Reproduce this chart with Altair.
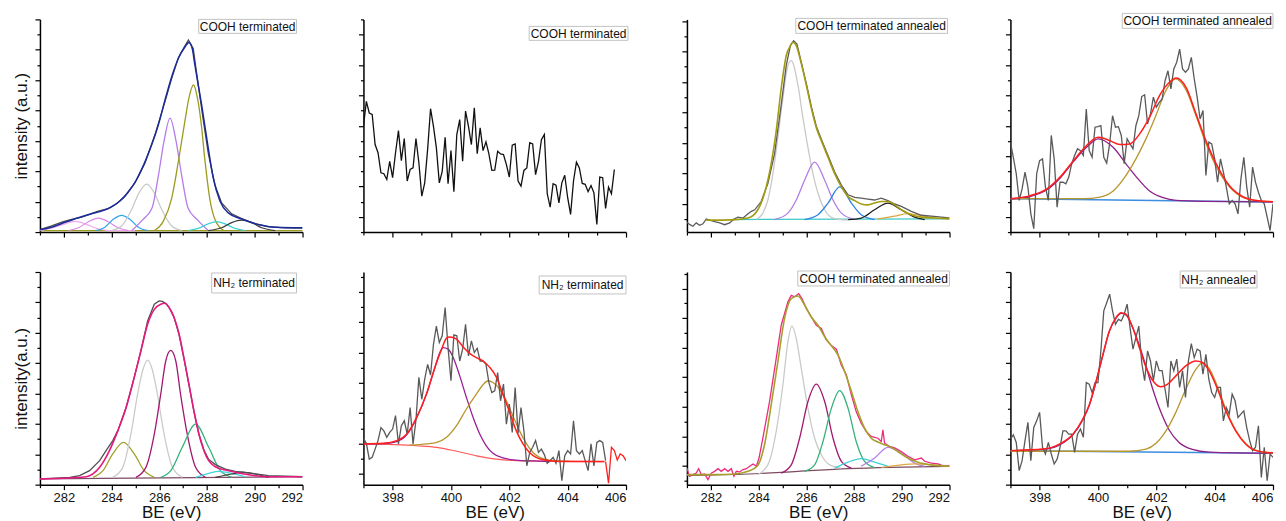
import json
import altair as alt
import pandas as pd

FONT = "Liberation Sans"

# ---------- shared energy grid of the N 1s scans (eV) ----------
N1S_GRID = [397.0, 397.1, 397.2, 397.3, 397.4, 397.5, 397.6, 397.7, 397.8, 397.9,
            398.0, 398.1, 398.2, 398.3, 398.4, 398.5, 398.6, 398.7, 398.8, 398.9,
            399.0, 399.1, 399.2, 399.3, 399.4, 399.5, 399.6, 399.7, 399.8, 399.9,
            400.0, 400.1, 400.2, 400.3, 400.4, 400.5, 400.6, 400.7, 400.8, 400.9,
            401.0, 401.1, 401.2, 401.3, 401.4, 401.5, 401.6, 401.7, 401.8, 401.9,
            402.0, 402.1, 402.2, 402.3, 402.4, 402.5, 402.6, 402.7, 402.8, 402.9,
            403.0, 403.1, 403.2, 403.3, 403.4, 403.5, 403.6, 403.7, 403.8, 403.9,
            404.0, 404.1, 404.2, 404.3, 404.4, 404.5, 404.6, 404.7, 404.8, 404.9,
            405.0, 405.1, 405.2, 405.3, 405.4, 405.5, 405.6, 405.7, 405.8, 405.9,
            406.0]

# ---------- Panel 1: C 1s, COOH terminated ----------
P1_ENV_X = [281.00, 281.49, 282.05, 282.61, 283.16, 283.58, 284.00, 284.35, 284.70, 285.05,
            285.40, 285.68, 285.96, 286.24, 286.52, 286.80, 287.08, 287.24, 287.38, 287.49,
            287.77, 288.05, 288.26, 288.54, 288.89, 289.45, 290.15, 290.85, 292.00]
P1_ENV_Y = [0.08, 0.16, 0.32, 0.47, 0.60, 0.69, 0.83, 1.02, 1.32, 1.73,
            2.31, 2.87, 3.53, 4.35, 5.11, 5.72, 6.10, 6.24, 6.04, 5.50,
            4.20, 2.76, 1.78, 1.02, 0.63, 0.43, 0.25, 0.16, 0.14]
P1_RAW_X = [281.00, 281.49, 281.98, 282.33, 282.75, 283.16, 283.44, 283.86, 284.21, 284.56,
            284.98, 285.40, 285.82, 286.24, 286.52, 286.80, 287.05, 287.22, 287.30, 287.42,
            287.63, 287.84, 288.05, 288.33, 288.61, 289.03, 289.45, 290.01, 290.57, 291.27, 292.00]
P1_RAW_Y = [0.08, 0.20, 0.34, 0.42, 0.49, 0.61, 0.69, 0.77, 0.93, 1.18,
            1.62, 2.27, 3.20, 4.30, 5.06, 5.74, 6.10, 6.32, 6.21, 6.04,
            4.85, 3.70, 2.60, 1.55, 0.96, 0.60, 0.44, 0.27, 0.18, 0.14, 0.13]
P1_PINK1_X = [281.00, 281.63, 282.05, 282.47, 282.89, 283.30, 283.86, 284.98]
P1_PINK1_Y = [0.05, 0.16, 0.27, 0.35, 0.27, 0.14, 0.05, 0.05]
P1_PINK2_X = [282.19, 282.61, 283.03, 283.44, 283.86, 284.28, 284.70]
P1_PINK2_Y = [0.05, 0.14, 0.34, 0.46, 0.34, 0.14, 0.05]
P1_LBLUE_X = [283.30, 283.72, 284.07, 284.42, 284.77, 285.12, 285.54]
P1_LBLUE_Y = [0.05, 0.16, 0.42, 0.55, 0.42, 0.16, 0.05]
P1_GRAY_X = [284.00, 284.42, 284.84, 285.15, 285.47, 285.79, 286.10, 286.52, 286.94]
P1_GRAY_Y = [0.05, 0.20, 0.74, 1.29, 1.58, 1.29, 0.74, 0.20, 0.05]
P1_LAV_X = [284.85, 285.30, 285.70, 285.96, 286.20, 286.45, 286.70, 286.94, 287.20, 287.60, 288.05]
P1_LAV_Y = [0.05, 0.40, 0.80, 1.85, 3.00, 3.75, 3.00, 1.85, 0.80, 0.40, 0.05]
P1_OLIVE_X = [285.80, 286.17, 286.52, 286.80, 287.07, 287.25, 287.43, 287.60, 287.75, 287.92,
              288.11, 288.35, 288.70]
P1_OLIVE_Y = [0.05, 0.36, 1.12, 2.33, 3.64, 4.45, 4.84, 4.40, 3.60, 2.30,
              1.12, 0.38, 0.05]
P1_CYAN_X = [287.22, 287.63, 288.05, 288.40, 288.75, 289.17, 289.59]
P1_CYAN_Y = [0.05, 0.12, 0.27, 0.34, 0.27, 0.12, 0.05]
P1_DARK_X = [288.05, 288.61, 289.03, 289.45, 289.87, 290.29, 290.85]
P1_DARK_Y = [0.05, 0.14, 0.31, 0.39, 0.31, 0.14, 0.05]
P1_BASE_X = [281.0, 292.0]
P1_BASE_Y = [0.05, 0.05]

# ---------- Panel 2: N 1s, COOH terminated ----------
P2_RAW_Y = [3.48, 4.30, 3.92, 3.87, 2.88, 2.61, 1.95, 1.92, 1.73, 2.33,
            1.79, 2.61, 3.34, 2.35, 3.08, 1.68, 2.06, 2.11, 3.08, 2.28,
            1.18, 1.62, 2.72, 4.06, 3.48, 2.77, 1.62, 2.00, 3.12, 1.59,
            2.68, 1.33, 3.21, 3.70, 2.33, 3.98, 3.48, 2.88, 4.09, 2.58,
            3.43, 2.68, 2.97, 2.57, 2.03, 2.04, 2.66, 2.57, 2.55, 2.22,
            1.81, 2.86, 2.90, 1.68, 1.51, 2.03, 2.11, 2.94, 2.90, 1.89,
            2.33, 3.04, 3.21, 1.26, 0.82, 1.59, 1.54, 0.96, 1.62, 1.87,
            1.13, 0.58, 1.68, 2.30, 2.11, 1.60, 1.57, 1.33, 1.53, 1.29,
            0.25, 1.81, 1.79, 0.78, 1.48, 1.26, 2.06]

# ---------- Panel 3: C 1s, COOH terminated annealed ----------
P3_ENV_X = [281.81, 282.86, 283.56, 283.97, 284.25, 284.53, 284.74, 284.95, 285.16, 285.34,
            285.44, 285.58, 285.79, 286.00, 286.21, 286.42, 286.63, 286.91, 287.19, 287.47,
            287.75, 288.03, 288.30, 288.58, 288.86, 289.14, 289.42, 289.70, 289.98, 290.40,
            290.82, 291.38, 292.00]
P3_ENV_Y = [0.39, 0.40, 0.46, 0.73, 1.27, 2.24, 3.31, 4.71, 5.78, 6.11,
            6.22, 6.11, 5.52, 4.82, 4.06, 3.42, 2.99, 2.45, 1.91, 1.48,
            1.16, 1.03, 0.92, 0.89, 0.95, 1.00, 1.00, 0.89, 0.73, 0.57,
            0.49, 0.46, 0.44]
P3_RAW_X = [281.00, 281.11, 281.25, 281.39, 281.53, 281.67, 281.81, 281.95, 282.16, 282.37,
            282.58, 282.79, 282.97, 283.14, 283.35, 283.56, 283.70, 283.84, 284.11, 284.39,
            284.67, 284.95, 285.16, 285.34, 285.47, 285.61, 285.79, 286.00, 286.21, 286.42,
            286.63, 286.91, 287.19, 287.47, 287.75, 288.03, 288.30, 288.58, 288.86, 289.14,
            289.42, 289.70, 289.98, 290.40, 290.82, 291.24, 291.66, 292.00]
P3_RAW_Y = [0.32, 0.25, 0.19, 0.30, 0.22, 0.27, 0.43, 0.39, 0.34, 0.30,
            0.24, 0.30, 0.43, 0.49, 0.46, 0.60, 0.68, 0.73, 1.00, 1.59,
            2.56, 4.17, 5.46, 6.13, 6.27, 6.16, 5.57, 4.87, 4.12, 3.47,
            3.04, 2.51, 1.97, 1.54, 1.22, 1.14, 1.11, 1.08, 1.05, 1.11,
            1.03, 0.92, 0.84, 0.68, 0.55, 0.52, 0.49, 0.46]
P3_GRAY_X = [283.91, 284.18, 284.39, 284.60, 284.81, 285.02, 285.23, 285.37, 285.65, 285.86,
             286.07, 286.28, 286.49, 286.77, 287.12, 287.75]
P3_GRAY_Y = [0.41, 0.62, 1.05, 1.91, 3.10, 4.39, 5.46, 5.62, 4.82, 3.74,
             2.77, 1.91, 1.27, 0.73, 0.46, 0.39]
P3_LAV_X = [284.67, 285.23, 285.58, 285.93, 286.35, 286.77, 287.12, 287.47, 288.03]
P3_LAV_Y = [0.41, 0.62, 1.05, 1.70, 2.29, 1.70, 1.05, 0.62, 0.41]
P3_BLUE_X = [285.93, 286.49, 286.91, 287.40, 287.89, 288.30, 288.86]
P3_BLUE_Y = [0.41, 0.57, 0.95, 1.48, 0.95, 0.57, 0.41]
P3_BLACK_X = [287.75, 288.30, 288.86, 289.42, 289.98, 290.54, 290.96]
P3_BLACK_Y = [0.41, 0.46, 0.73, 0.95, 0.73, 0.49, 0.41]
P3_ORANGE_X = [289.00, 289.70, 290.26, 290.82, 291.38, 292.00]
P3_ORANGE_Y = [0.43, 0.52, 0.60, 0.54, 0.46, 0.43]
P3_CYAN_X = [282.86, 292.00]
P3_CYAN_Y = [0.41, 0.43]

# ---------- Panel 4: N 1s, COOH terminated annealed ----------
P4_RAW_Y = [2.96, 2.46, 1.92, 1.04, 1.42, 1.97, 1.48, 0.60, 0.11, 1.92,
            2.35, 2.41, 1.48, 1.04, 3.18, 2.41, 0.82, 1.64, 1.64, 1.59,
            1.81, 2.25, 2.52, 2.74, 2.68, 2.52, 4.05, 2.68, 2.46, 3.45,
            3.47, 3.50, 2.46, 2.27, 2.90, 3.83, 3.45, 3.47, 3.18, 2.25,
            3.07, 2.90, 2.74, 3.50, 3.83, 4.46, 4.52, 3.56, 3.89, 4.44,
            4.11, 4.27, 4.38, 4.98, 5.31, 4.71, 5.37, 5.59, 6.02, 5.37,
            5.26, 5.37, 5.75, 5.04, 4.44, 3.72, 4.00, 1.86, 2.96, 2.90,
            2.41, 1.64, 2.41, 1.97, 1.48, 0.93, 1.04, 0.93, 0.60, 1.75,
            2.46, 1.48, 0.82, 2.14, 1.64, 1.31, 1.04, 0.93, 0.49, 0.05,
            0.93]
P4_BASE_X = [397.0, 406.0]
P4_BASE_Y = [1.10, 0.99]
P4_PUR_X = [397.0, 397.68, 398.25, 398.70, 399.16, 399.61, 400.01, 400.52, 400.98, 401.32,
            401.77, 402.23, 402.68, 403.59, 406.0]
P4_PUR_Y = [1.08, 1.17, 1.39, 1.77, 2.32, 2.79, 3.07, 2.79, 2.22, 1.81,
            1.35, 1.13, 1.04, 1.01, 0.99]
P4_GOLD_X = [397.0, 398.59, 399.50, 400.07, 400.52, 400.98, 401.32, 401.66, 402.00, 402.34,
             402.66, 403.02, 403.36, 403.70, 404.05, 404.50, 404.95, 405.41, 406.0]
P4_GOLD_Y = [1.10, 1.10, 1.10, 1.15, 1.35, 1.89, 2.44, 3.10, 3.87, 4.68,
             5.04, 4.68, 3.83, 2.92, 2.16, 1.50, 1.15, 1.04, 1.00]
P4_RED_X = [397.0, 397.68, 398.25, 398.70, 399.16, 399.61, 400.01, 400.41, 400.75, 401.09,
            401.43, 401.77, 402.11, 402.45, 402.68, 403.02, 403.36, 403.70, 404.05, 404.50,
            404.95, 405.41, 406.0]
P4_RED_Y = [1.10, 1.20, 1.42, 1.81, 2.35, 2.85, 3.12, 3.01, 2.88, 2.90,
            3.23, 3.78, 4.49, 4.93, 5.07, 4.76, 3.89, 3.01, 2.25, 1.53,
            1.17, 1.04, 1.00]

# ---------- Panel 5: C 1s, NH2 terminated ----------
P5_ENV_X = [281.00, 282.25, 282.94, 283.50, 283.91, 284.26, 284.61, 284.95, 285.23, 285.51,
            285.79, 286.06, 286.24, 286.41, 286.62, 286.83, 287.03, 287.24, 287.45, 287.66,
            287.87, 288.07, 288.35, 288.77, 289.18, 289.74, 290.57, 292.00]
P5_ENV_Y = [0.19, 0.22, 0.26, 0.57, 1.12, 1.77, 2.54, 3.53, 4.40, 5.28,
            5.77, 5.94, 5.97, 5.83, 5.50, 4.95, 4.18, 3.31, 2.43, 1.66,
            1.12, 0.79, 0.59, 0.48, 0.41, 0.33, 0.26, 0.26]
P5_RAW_X = [281.00, 282.25, 282.66, 283.08, 283.50, 283.77, 284.05, 284.26, 284.61, 284.95,
            285.23, 285.51, 285.79, 285.99, 286.13, 286.27, 286.41, 286.62, 286.83, 287.03,
            287.24, 287.45, 287.66, 287.87, 288.07, 288.35, 288.77, 289.18, 289.74, 290.57, 292.00]
P5_RAW_Y = [0.19, 0.24, 0.30, 0.46, 0.79, 1.12, 1.45, 1.77, 2.54, 3.53,
            4.42, 5.39, 5.94, 6.05, 6.03, 5.96, 5.83, 5.50, 4.93, 4.16,
            3.29, 2.41, 1.66, 1.14, 0.83, 0.66, 0.51, 0.44, 0.39, 0.30, 0.26]
P5_GRAY_X = [284.05, 284.47, 284.81, 285.09, 285.30, 285.51, 285.72, 285.92, 286.20, 286.55, 286.96]
P5_GRAY_Y = [0.24, 0.57, 1.66, 2.98, 3.75, 4.10, 3.75, 2.98, 1.66, 0.57, 0.24]
P5_MAG_X = [285.02, 285.44, 285.79, 286.06, 286.27, 286.48, 286.69, 286.89, 287.17, 287.52, 287.93]
P5_MAG_Y = [0.24, 0.57, 1.66, 2.98, 4.07, 4.42, 4.07, 2.98, 1.66, 0.57, 0.24]
P5_OLIVE_X = [283.22, 283.64, 284.05, 284.50, 284.95, 285.37, 285.79]
P5_OLIVE_Y = [0.24, 0.46, 1.01, 1.39, 1.01, 0.46, 0.24]
P5_GREEN_X = [286.06, 286.48, 286.96, 287.52, 288.07, 288.56, 289.04]
P5_GREEN_Y = [0.24, 0.46, 1.23, 1.99, 1.23, 0.46, 0.24]
P5_CYAN_X = [287.52, 288.07, 288.49, 289.04, 289.60]
P5_CYAN_Y = [0.24, 0.37, 0.44, 0.37, 0.26]
P5_DARK_X = [288.35, 289.04, 289.46, 290.02, 290.57]
P5_DARK_Y = [0.24, 0.35, 0.41, 0.35, 0.24]
P5_BASE_X = [281.0, 292.0]
P5_BASE_Y = [0.19, 0.26]

# ---------- Panel 6: N 1s, NH2 terminated ----------
P6_RAW_Y = [1.52, 1.36, 0.84, 0.90, 1.17, 1.45, 1.88, 1.77, 1.56, 1.72,
            1.83, 2.27, 1.34, 1.94, 2.10, 1.66, 2.54, 1.34, 2.12, 3.53,
            2.81, 3.47, 3.96, 3.61, 4.62, 5.22, 4.68, 4.90, 5.83, 4.51,
            3.42, 4.93, 4.90, 4.07, 4.46, 5.28, 4.24, 4.73, 4.35, 4.49,
            4.07, 4.07, 3.96, 3.36, 3.03, 3.09, 3.69, 2.76, 3.31, 1.99,
            2.65, 1.72, 3.20, 1.69, 2.54, 1.77, 0.62, 1.06, 1.23, 1.45,
            1.06, 1.17, 0.99, 0.70, 0.79, 0.90, 0.70, 1.12, 0.13, 0.95,
            1.12, 1.01, 2.10, 1.12, 1.01, 1.12, 0.79, 0.46, 1.34, 0.62,
            1.39, 1.45, 1.39, 0.79]
P6_TAIL_X = [405.3, 405.4, 405.5, 405.6, 405.7, 405.8, 405.9, 406.0]
P6_TAIL_Y = [0.76, 0.05, 1.23, 1.12, 0.81, 1.01, 0.95, 0.79]
P6_RED_X = [397.0, 397.68, 398.14, 398.48, 398.82, 399.16, 399.45, 399.68, 399.85, 399.96,
            400.19, 400.42, 400.64, 400.87, 401.10, 401.33, 401.56, 401.78, 402.01, 402.24,
            402.47, 402.69, 402.92, 403.38, 404.06, 405.26]
P6_RED_Y = [1.34, 1.36, 1.45, 1.66, 2.21, 2.98, 3.86, 4.46, 4.82, 4.86,
            4.79, 4.53, 4.32, 4.18, 4.07, 3.86, 3.53, 2.98, 2.38, 1.77,
            1.34, 1.06, 0.90, 0.79, 0.76, 0.76]
P6_PUR_X = [397.0, 397.68, 398.14, 398.48, 398.82, 399.16, 399.45, 399.62, 399.73, 399.90,
            400.08, 400.30, 400.53, 400.76, 400.99, 401.21, 401.44, 401.78, 402.24, 402.81, 403.38]
P6_PUR_Y = [1.34, 1.35, 1.42, 1.64, 2.19, 2.98, 3.86, 4.35, 4.51, 4.46,
            4.18, 3.58, 2.87, 2.21, 1.66, 1.28, 1.03, 0.88, 0.81, 0.78, 0.76]
P6_GOLD_X = [398.59, 399.16, 399.51, 399.85, 400.19, 400.53, 400.87, 401.10, 401.27, 401.44,
             401.67, 401.90, 402.12, 402.35, 402.58, 402.81, 403.04, 403.38, 404.06]
P6_GOLD_Y = [1.30, 1.34, 1.39, 1.56, 1.94, 2.49, 2.98, 3.29, 3.42, 3.36,
             3.14, 2.76, 2.27, 1.77, 1.36, 1.06, 0.90, 0.81, 0.77]
P6_BG_X = [397.0, 398.82, 399.51, 400.19, 400.87, 401.56, 402.24, 405.26]
P6_BG_Y = [1.34, 1.28, 1.23, 1.10, 0.95, 0.84, 0.79, 0.76]

# ---------- Panel 7: C 1s, COOH terminated annealed ----------
P7_RAW_X = [281.00, 281.11, 281.25, 281.39, 281.49, 281.60, 281.74, 281.88, 282.02, 282.16,
            282.30, 282.44, 282.58, 282.72, 282.86, 282.97, 283.07, 283.21, 283.35, 283.49,
            283.63, 283.77, 283.91, 284.02, 284.18, 284.46, 284.74, 284.95, 285.23, 285.37,
            285.51, 285.68, 285.82, 286.00, 286.21, 286.42, 286.63, 286.84, 287.05, 287.26,
            287.47, 287.68, 287.89, 288.09, 288.30, 288.51, 288.72, 289.00, 289.14, 289.21,
            289.28, 289.49, 289.70, 289.98, 290.26, 290.54, 290.82, 290.96, 291.24, 291.52,
            291.80, 292.00]
P7_RAW_Y = [0.56, 0.28, 0.34, 0.39, 0.54, 0.34, 0.36, 0.17, 0.39, 0.45,
            0.54, 0.45, 0.54, 0.45, 0.54, 0.28, 0.45, 0.43, 0.51, 0.54,
            0.62, 0.70, 0.62, 0.90, 1.57, 2.81, 4.27, 5.39, 6.18, 6.40,
            6.35, 6.46, 6.29, 5.96, 5.67, 5.39, 5.28, 4.89, 4.70, 4.58,
            4.04, 3.71, 3.03, 2.47, 2.08, 1.80, 1.63, 1.57, 1.46, 1.85,
            1.40, 1.29, 1.24, 1.12, 0.96, 0.84, 0.90, 0.79, 0.73, 0.70,
            0.62, 0.65]
P7_ENV_X = [281.00, 282.16, 283.00, 283.56, 283.97, 284.25, 284.53, 284.81, 285.09, 285.37,
            285.65, 285.93, 286.21, 286.49, 286.77, 287.05, 287.33, 287.61, 287.89, 288.16,
            288.44, 288.72, 289.00, 289.28, 289.56, 289.83, 290.25, 290.68, 291.24, 292.00]
P7_ENV_Y = [0.34, 0.34, 0.36, 0.45, 0.65, 1.35, 2.70, 4.16, 5.62, 6.29,
            6.38, 6.07, 5.67, 5.39, 5.00, 4.70, 4.38, 3.82, 3.15, 2.47,
            1.91, 1.57, 1.44, 1.35, 1.26, 1.12, 0.90, 0.76, 0.67, 0.62]
P7_GRAY_X = [283.97, 284.39, 284.74, 285.02, 285.23, 285.40, 285.58, 285.79, 286.07, 286.35,
             286.63, 286.98, 287.47]
P7_GRAY_Y = [0.34, 0.67, 1.80, 3.37, 4.83, 5.37, 4.94, 3.93, 2.58, 1.57,
             1.01, 0.67, 0.56]
P7_MAG_X = [284.95, 285.37, 285.72, 286.07, 286.42, 286.77, 287.12, 287.47, 287.89]
P7_MAG_Y = [0.39, 0.67, 1.57, 2.81, 3.40, 2.81, 1.57, 0.79, 0.56]
P7_GREEN_X = [285.93, 286.35, 286.70, 287.05, 287.40, 287.75, 288.09, 288.44, 288.86]
P7_GREEN_Y = [0.45, 0.67, 1.46, 2.58, 3.18, 2.58, 1.46, 0.79, 0.58]
P7_CYAN_X = [287.19, 287.75, 288.30, 288.86, 289.42]
P7_CYAN_Y = [0.56, 0.76, 0.88, 0.76, 0.62]
P7_LAV_X = [288.30, 288.86, 289.42, 289.98, 290.54, 290.96]
P7_LAV_Y = [0.62, 0.90, 1.26, 1.07, 0.73, 0.62]
P7_ORANGE_X = [289.14, 289.98, 290.54, 291.24, 292.00]
P7_ORANGE_Y = [0.58, 0.67, 0.70, 0.67, 0.62]
P7_BASE_X = [281.00, 283.56, 285.65, 287.75, 292.00]
P7_BASE_Y = [0.31, 0.36, 0.45, 0.54, 0.62]

# ---------- Panel 8: N 1s, NH2 annealed ----------
P8_RAW_Y = [1.50, 1.64, 1.39, 0.46, 0.79, 1.45, 2.05, 0.79, 1.88, 2.10,
            2.38, 1.23, 1.01, 1.39, 1.01, 0.68, 0.84, 1.23, 1.77, 1.77,
            1.66, 1.66, 1.06, 1.66, 1.83, 1.56, 3.36, 3.31, 3.03, 3.36,
            3.36, 4.40, 5.72, 5.99, 6.27, 5.72, 5.28, 5.44, 5.39, 5.61,
            5.94, 5.17, 4.46, 4.84, 5.22, 4.02, 3.42, 4.40, 4.07, 3.42,
            4.07, 3.75, 3.75, 3.14, 2.54, 4.07, 3.75, 4.13, 3.20, 3.75,
            2.87, 4.07, 4.64, 4.18, 4.46, 4.40, 3.64, 4.29, 3.47, 3.03,
            2.87, 3.20, 3.20, 2.10, 2.54, 2.32, 2.98, 2.76, 2.21, 2.32,
            2.43, 1.88, 1.45, 1.12, 1.23, 1.94, 0.24, 1.23, 0.13, 1.01,
            0.90]
P8_BASE_X = [397.0, 406.0]
P8_BASE_Y = [1.12, 1.03]
P8_RED_X = [397.0, 398.12, 398.69, 399.14, 399.48, 399.71, 399.94, 400.17, 400.39, 400.62,
            400.79, 400.96, 401.19, 401.42, 401.65, 401.93, 402.16, 402.39, 402.67, 403.01,
            403.36, 403.58, 403.81, 404.10, 404.38, 404.72, 405.06, 405.41, 406.0]
P8_RED_Y = [1.12, 1.17, 1.34, 1.66, 2.16, 2.65, 3.42, 4.29, 5.06, 5.50,
            5.66, 5.61, 5.17, 4.51, 3.86, 3.36, 3.22, 3.31, 3.58, 3.91,
            4.07, 4.02, 3.75, 3.14, 2.43, 1.77, 1.34, 1.12, 1.05]
P8_PUR_X = [397.0, 398.12, 398.69, 399.14, 399.48, 399.71, 399.94, 400.17, 400.39, 400.62,
            400.79, 400.96, 401.19, 401.42, 401.65, 401.88, 402.16, 402.44, 402.78, 403.24,
            403.81, 406.0]
P8_PUR_Y = [1.12, 1.16, 1.31, 1.64, 2.13, 2.63, 3.40, 4.26, 5.04, 5.48,
            5.64, 5.59, 5.17, 4.57, 3.88, 3.14, 2.38, 1.80, 1.39, 1.16,
            1.07, 1.03]
P8_GOLD_X = [397.0, 401.08, 401.65, 401.99, 402.33, 402.67, 403.01, 403.36, 403.58, 403.81,
             404.10, 404.38, 404.72, 405.06, 405.41, 406.0]
P8_GOLD_Y = [1.10, 1.10, 1.17, 1.36, 1.77, 2.38, 3.14, 3.80, 4.01, 3.83,
             3.22, 2.49, 1.80, 1.36, 1.14, 1.04]

# ---------- panel labels ----------
LABELS = ["COOH terminated", "COOH terminated", "COOH terminated annealed",
          "COOH terminated annealed", "NH\u2082 terminated", "NH\u2082 terminated",
          "COOH terminated annealed", "NH\u2082 annealed"]

# ---------- drawing helpers ----------
C1S_TICKS = [281, 282, 283, 284, 285, 286, 287, 288, 289, 290, 291, 292]
N1S_TICKS = [397, 398, 399, 400, 401, 402, 403, 404, 405, 406]
W, H = 263, 213


def y_ticks(major0, top):
    majors, minors = [], []
    k = 0
    while major0 + k <= top + 1e-9:
        majors.append(round(major0 + k, 2))
        k += 1
    k = 0
    m0 = major0 - 0.5 if major0 >= 0.5 else major0 + 0.5
    while m0 + k <= top + 1e-9:
        if m0 + k >= 0:
            minors.append(round(m0 + k, 2))
        k += 1
    return sorted(majors + minors), majors


def panel(series, xdom, xticks, ydom, ymajor0, bottom, ytitle, label, box):
    xk = dict(values=xticks, grid=False,
              tickSize={"condition": {"test": "datum.value % 2 == 0", "value": 5}, "value": 3})
    if bottom:
        xaxis = alt.Axis(labelExpr="datum.value % 2 == 0 ? datum.label : ''",
                         title="BE (eV)", titlePadding=0, labelPadding=2, **xk)
    else:
        xaxis = alt.Axis(labels=False, title=None, **xk)
    yvals, ymaj = y_ticks(ymajor0, ydom[1])
    ytest = "indexof(" + json.dumps(ymaj) + ", datum.value) >= 0"
    yk = dict(values=yvals, labels=False, grid=False,
              tickSize={"condition": {"test": ytest, "value": 5}, "value": 3})
    if ytitle:
        yaxis = alt.Axis(title=ytitle, titlePadding=4, **yk)
    else:
        yaxis = alt.Axis(title=None, **yk)
    xs = alt.Scale(domain=xdom, nice=False, zero=False)
    ys = alt.Scale(domain=ydom, nice=False, zero=False)
    layers = []
    for xv, yv, color, interp, sw in series:
        df = pd.DataFrame({"x": xv, "y": yv})
        layers.append(
            alt.Chart(df).mark_line(color=color, strokeWidth=sw, interpolate=interp, clip=True)
            .encode(x=alt.X("x:Q", scale=xs, axis=xaxis), y=alt.Y("y:Q", scale=ys, axis=yaxis))
        )
    x1, x2, y1, y2 = box
    ldf = pd.DataFrame({"t": [label]})
    layers.append(
        alt.Chart(ldf).mark_rect(fill="white", stroke="#c2c2c2", strokeWidth=1)
        .encode(x=alt.value(x1), x2=alt.value(x2), y=alt.value(y1), y2=alt.value(y2))
    )
    layers.append(
        alt.Chart(ldf).mark_text(font=FONT, fontSize=12, color="#111111")
        .encode(x=alt.value((x1 + x2) / 2), y=alt.value((y1 + y2) / 2 + 0.5), text="t:N")
    )
    return alt.layer(*layers).properties(width=W, height=H)


M, L = "monotone", "linear"

p1 = panel([
    (P1_BASE_X, P1_BASE_Y, "#9c9b1e", L, 1.2),
    (P1_PINK1_X, P1_PINK1_Y, "#f0a8f0", M, 1.2),
    (P1_PINK2_X, P1_PINK2_Y, "#dc88e8", M, 1.2),
    (P1_LBLUE_X, P1_LBLUE_Y, "#2fa5ec", M, 1.2),
    (P1_GRAY_X, P1_GRAY_Y, "#c8c8c8", M, 1.2),
    (P1_LAV_X, P1_LAV_Y, "#b57be6", M, 1.3),
    (P1_OLIVE_X, P1_OLIVE_Y, "#9c9b1e", M, 1.3),
    (P1_CYAN_X, P1_CYAN_Y, "#3fd2d2", M, 1.2),
    (P1_DARK_X, P1_DARK_Y, "#3c3c3c", M, 1.2),
    (P1_RAW_X, P1_RAW_Y, "#4a4a4a", L, 1.3),
    (P1_ENV_X, P1_ENV_Y, "#1b2a9a", M, 1.5),
], [281, 292], C1S_TICKS, [0, 7.0], 0.0, False, "intensity (a.u.)", LABELS[0], (159, 257, 0, 14))

p2 = panel([
    (N1S_GRID[:87], P2_RAW_Y, "#111111", L, 1.3),
], [397, 406], N1S_TICKS, [0, 7.0], 0.5, False, None, LABELS[1], (166, 265, 7, 21))

p3 = panel([
    (P3_CYAN_X, P3_CYAN_Y, "#3ec9c9", L, 1.2),
    (P3_GRAY_X, P3_GRAY_Y, "#c9c9c9", M, 1.3),
    (P3_LAV_X, P3_LAV_Y, "#b27de4", M, 1.3),
    (P3_BLUE_X, P3_BLUE_Y, "#2f85df", M, 1.3),
    (P3_BLACK_X, P3_BLACK_Y, "#1e1e1e", M, 1.3),
    (P3_ORANGE_X, P3_ORANGE_Y, "#e0a53a", M, 1.2),
    (P3_RAW_X, P3_RAW_Y, "#5c5c5c", L, 1.3),
    (P3_ENV_X, P3_ENV_Y, "#a39c10", M, 1.6),
], [281, 292], C1S_TICKS, [0, 6.97], 0.92, False, None, LABELS[2], (109, 261, -1, 14))

p4 = panel([
    (P4_BASE_X, P4_BASE_Y, "#3c8de0", L, 1.5),
    (P4_PUR_X, P4_PUR_Y, "#8e1f87", M, 1.3),
    (P4_GOLD_X, P4_GOLD_Y, "#b8962e", M, 1.3),
    (N1S_GRID, P4_RAW_Y, "#595959", L, 1.3),
    (P4_RED_X, P4_RED_Y, "#ff1f1f", M, 1.5),
], [397, 406], N1S_TICKS, [0, 7.0], 0.5, False, None, LABELS[3], (112, 263, -6, 9))

p5 = panel([
    (P5_BASE_X, P5_BASE_Y, "#7b4a63", L, 1.2),
    (P5_OLIVE_X, P5_OLIVE_Y, "#a3a12c", M, 1.3),
    (P5_GRAY_X, P5_GRAY_Y, "#cbcbcb", M, 1.3),
    (P5_MAG_X, P5_MAG_Y, "#a3186f", M, 1.3),
    (P5_GREEN_X, P5_GREEN_Y, "#33b27a", M, 1.3),
    (P5_CYAN_X, P5_CYAN_Y, "#3fd3dc", M, 1.2),
    (P5_DARK_X, P5_DARK_Y, "#3a3a3a", M, 1.2),
    (P5_RAW_X, P5_RAW_Y, "#505050", L, 1.3),
    (P5_ENV_X, P5_ENV_Y, "#e5197f", M, 1.6),
], [281, 292], C1S_TICKS, [0, 7.0], 0.0, True, "intensity(a.u.)", LABELS[4], (172, 257, 1, 21))

p6 = panel([
    (P6_BG_X, P6_BG_Y, "#ff5a5a", M, 1.2),
    (P6_PUR_X, P6_PUR_Y, "#9b1f96", M, 1.3),
    (P6_GOLD_X, P6_GOLD_Y, "#b8962e", M, 1.3),
    (N1S_GRID[:84], P6_RAW_Y, "#595959", L, 1.3),
    (P6_TAIL_X, P6_TAIL_Y, "#ff1f1f", L, 1.3),
    (P6_RED_X, P6_RED_Y, "#ff1f1f", M, 1.5),
], [397, 406], N1S_TICKS, [0, 7.0], 0.35, True, None, LABELS[5], (176, 263, 4, 22))

p7 = panel([
    (P7_BASE_X, P7_BASE_Y, "#7d4b5e", M, 1.2),
    (P7_GRAY_X, P7_GRAY_Y, "#cacaca", M, 1.3),
    (P7_MAG_X, P7_MAG_Y, "#a2186f", M, 1.3),
    (P7_GREEN_X, P7_GREEN_Y, "#34b27b", M, 1.3),
    (P7_CYAN_X, P7_CYAN_Y, "#3fd0d6", M, 1.2),
    (P7_LAV_X, P7_LAV_Y, "#b27fe6", M, 1.3),
    (P7_ORANGE_X, P7_ORANGE_Y, "#e0a848", M, 1.2),
    (P7_RAW_X, P7_RAW_Y, "#ee2a7f", L, 1.3),
    (P7_ENV_X, P7_ENV_Y, "#a6a12c", M, 1.6),
], [281, 292], C1S_TICKS, [0, 7.19], 0.63, True, None, LABELS[6], (111, 263, -1, 14))

p8 = panel([
    (P8_BASE_X, P8_BASE_Y, "#3c8de0", L, 1.5),
    (P8_PUR_X, P8_PUR_Y, "#8e1f87", M, 1.3),
    (P8_GOLD_X, P8_GOLD_Y, "#b8962e", M, 1.3),
    (N1S_GRID, P8_RAW_Y, "#595959", L, 1.3),
    (P8_RED_X, P8_RED_Y, "#ff1f1f", M, 1.5),
], [397, 406], N1S_TICKS, [0, 7.0], 0.0, True, None, LABELS[7], (170, 247, -1, 16))

chart = alt.concat(
    p1, p2, p3, p4, p5, p6, p7, p8,
    columns=4, spacing={"row": 40, "column": 61}, bounds="flush",
).properties(
    padding={"left": 4, "top": 4, "right": 4, "bottom": 0}
).configure_view(
    strokeWidth=0
).configure_axis(
    domainColor="#000000", domainWidth=1.5, tickColor="#000000", tickWidth=1.2,
    labelFont=FONT, labelFontSize=13, labelColor="#111111",
    titleFont=FONT, titleFontSize=17, titleFontWeight="normal", titleColor="#111111",
)

chart.save("out.html", embed_options={"renderer": "svg", "actions": False})
